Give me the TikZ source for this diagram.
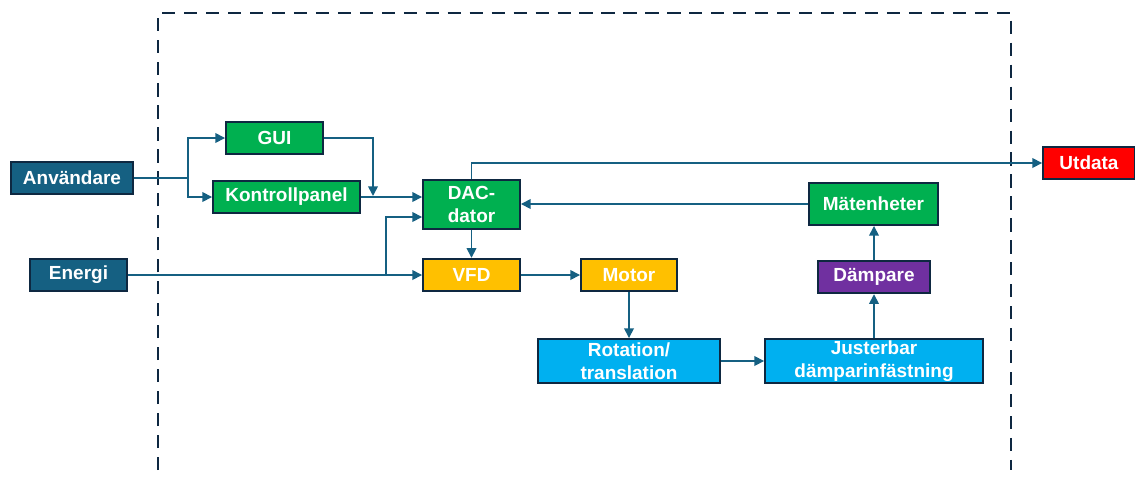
\documentclass[tikz,border=0pt]{standalone}
\usepackage{fontspec}
\setmainfont{Liberation Sans}
\usepackage{tikz}
\usetikzlibrary{calc}
\usetikzlibrary{arrows.meta}
\usetikzlibrary{positioning}

\definecolor{inblue}{HTML}{156082}
\definecolor{navy}{HTML}{0E2841}
\definecolor{ctrlgreen}{HTML}{00B050}
\definecolor{driveamber}{HTML}{FFC000}
\definecolor{mechcyan}{HTML}{00B0F0}
\definecolor{dampviolet}{HTML}{7030A0}
\definecolor{outred}{HTML}{FF0000}

\tikzset{
  blk/.style={draw=navy,line width=1.1pt,text=white,inner sep=0pt,align=center,
    font=\fontsize{10.8}{13}\selectfont\bfseries,minimum height=0.65cm},
  wire/.style={draw=inblue,line width=0.9pt},
  feed/.style={wire,-{Triangle[length=5.5pt,width=5.5pt]}}
}

\begin{document}
\begin{tikzpicture}[x=0.02cm,y=-0.02cm]
\useasboundingbox (0,0) rectangle (1135,477);
\draw[navy,line width=1.2pt,dash pattern=on 7.5pt off 5pt] (158,470) -- (158,13) -- (1011,13) -- (1011,470);
\draw (72,178) node[blk,fill=inblue,minimum width=2.44cm](anv){Användare};
\draw (78.5,275) node[blk,fill=inblue,minimum width=1.94cm](energi){Energi};
\draw (274.5,138) node[blk,fill=ctrlgreen,minimum width=1.94cm](gui){GUI};
\draw (286.5,197) node[blk,fill=ctrlgreen,minimum width=2.94cm](kp){Kontrollpanel};
\draw (471.5,204.5) node[blk,fill=ctrlgreen,minimum width=1.94cm,minimum height=0.98cm](dac){DAC-\\dator};
\draw (471.5,275) node[blk,fill=driveamber,minimum width=1.94cm](vfd){VFD};
\draw (629,275) node[blk,fill=driveamber,minimum width=1.92cm](motor){Motor};
\draw (629,361) node[blk,fill=mechcyan,minimum width=3.64cm,minimum height=0.88cm](rot){Rotation/\\translation};
\draw (874,361) node[blk,fill=mechcyan,minimum width=4.36cm,minimum height=0.88cm](fast){Justerbar\\dämparinfästning};
\draw (874,277) node[blk,fill=dampviolet,minimum width=2.24cm](damp){Dämpare};
\draw (873.5,204) node[blk,fill=ctrlgreen,minimum width=2.58cm,minimum height=0.84cm](mat){Mätenheter};
\draw (1089,163) node[blk,fill=outred,minimum width=1.84cm](ut){Utdata};

\draw[wire] (anv.east) -- (188,178) coordinate (split);
\draw[feed] (split) |- (gui.west);
\draw[feed] (split) |- (kp.west);
\coordinate (kpjoin) at (373,196);
\draw[feed] (gui.east) -| (kpjoin);
\draw[feed] (kp.east) -- (kp.east -| dac.west);
\draw[feed] (energi.east) -- (vfd.west);
\coordinate (ebranch) at (386,275);
\draw[feed] (ebranch) |- ([yshift=-0.25cm]dac.west);
\draw[feed] (dac.south) -- (vfd.north);
\draw[feed] (dac.north) |- (ut.west);
\draw[feed] (mat.west) -- (mat.west -| dac.east);
\draw[feed] (vfd.east) -- (motor.west);
\draw[feed] (motor.south) -- (rot.north);
\draw[feed] (rot.east) -- (rot.east -| fast.west);
\draw[feed] (fast.north) -- (damp.south);
\draw[feed] (damp.north) -- (damp.north |- mat.south);
\end{tikzpicture}
\end{document}
